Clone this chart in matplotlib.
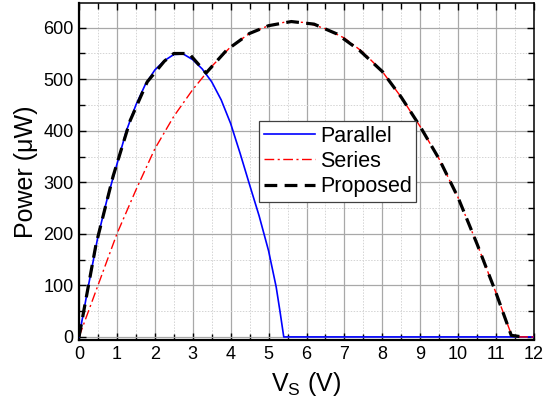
import matplotlib
matplotlib.use("Agg")
import matplotlib.pyplot as plt
from matplotlib.ticker import MultipleLocator

plt.rcParams['font.family'] = ['Liberation Sans', 'DejaVu Sans']
plt.rcParams['mathtext.fontset'] = 'custom'
plt.rcParams['mathtext.rm'] = 'Liberation Sans'

# Parallel
v_par = [0, 0.25, 0.5, 0.75, 1.0, 1.25, 1.5, 1.75, 2.0, 2.25, 2.5, 2.75, 3.0, 3.25,
         3.5, 3.75, 4.0, 4.25, 4.5, 4.75, 5.0, 5.2, 5.3, 5.4, 6, 7, 8, 9, 10, 11, 12]
p_par = [0, 100, 195, 270, 335, 400, 450, 490, 518, 536, 548, 549, 538, 520,
         495, 460, 414, 356, 295, 235, 167, 97, 50, 0, 0, 0, 0, 0, 0, 0, 0]

# Series
v_ser = [0, 0.5, 1.0, 1.5, 2.0, 2.5, 3.0, 3.5, 4.0, 4.5, 5.0, 5.5, 6.0, 6.5, 7.0,
         7.5, 8.0, 8.5, 9.0, 9.5, 10.0, 10.5, 11.0, 11.4, 11.5, 12]
p_ser = [0, 100, 200, 285, 365, 428, 480, 525, 563, 589, 604, 612, 610, 598, 580,
         552, 515, 465, 408, 345, 270, 180, 85, 5, 0, 0]

# Proposed
v_pro = [0, 0.45, 0.9, 1.35, 1.8, 2.25, 2.5, 2.9, 3.2, 3.35, 3.9, 4.5, 5.0, 5.6,
         6.2, 6.8, 7.4, 8.0, 8.5, 9.0, 9.5, 10.0, 10.5, 11.0, 11.4, 11.7]
p_pro = [0, 180, 312, 420, 495, 535, 550, 550, 525, 512, 557, 589, 604, 612,
         607, 588, 556, 515, 465, 408, 345, 270, 180, 85, 3, 0]

fig = plt.figure(figsize=(5.57, 4.09), dpi=100)
ax = fig.add_axes([79/557, 1-340/409, 455/557, 337/409])

ax.plot(v_par, p_par, color='#0000ff', lw=1.2, label='Parallel', zorder=3)
ax.plot(v_ser, p_ser, color='#ff0000', lw=1.0, dashes=(7, 2.5, 1.5, 2.5), label='Series', zorder=4)
ax.plot(v_pro, p_pro, color='black', lw=2.3, dashes=(4.0, 2.3), label='Proposed', zorder=5)

ax.set_xlim(0, 12)
ax.set_ylim(-6, 648)
ax.xaxis.set_major_locator(MultipleLocator(1))
ax.xaxis.set_minor_locator(MultipleLocator(0.5))
ax.yaxis.set_major_locator(MultipleLocator(100))
ax.yaxis.set_minor_locator(MultipleLocator(50))

ax.grid(which='major', color='#a8a8a8', lw=0.9, ls='-')
ax.grid(which='minor', color='#d4d4d4', lw=0.7, ls=(0, (1.5, 1.5)))
ax.set_axisbelow(True)

ax.tick_params(which='both', direction='in', top=True, right=True, labelsize=13, width=1.0, color='black')
ax.tick_params(which='major', length=5, pad=4)
ax.tick_params(which='minor', length=4)
for s in ['left', 'bottom']:
    ax.spines[s].set_linewidth(1.6)
for s in ['top', 'right']:
    ax.spines[s].set_linewidth(1.1)

ax.set_xlabel(r'V$_\mathrm{S}$ (V)', fontsize=18, labelpad=5)
ax.set_ylabel('Power (\u03bcW)', fontsize=18, labelpad=4)

leg = ax.legend(loc='lower left', bbox_to_anchor=(0.396, 0.41), fontsize=15.5,
                frameon=True, fancybox=False, edgecolor='#404040', framealpha=1,
                handlelength=2.35, handletextpad=0.25, borderpad=0.22, labelspacing=0.19,
                borderaxespad=0)
leg.get_frame().set_linewidth(0.9)

fig.savefig('out.png', dpi=100)
